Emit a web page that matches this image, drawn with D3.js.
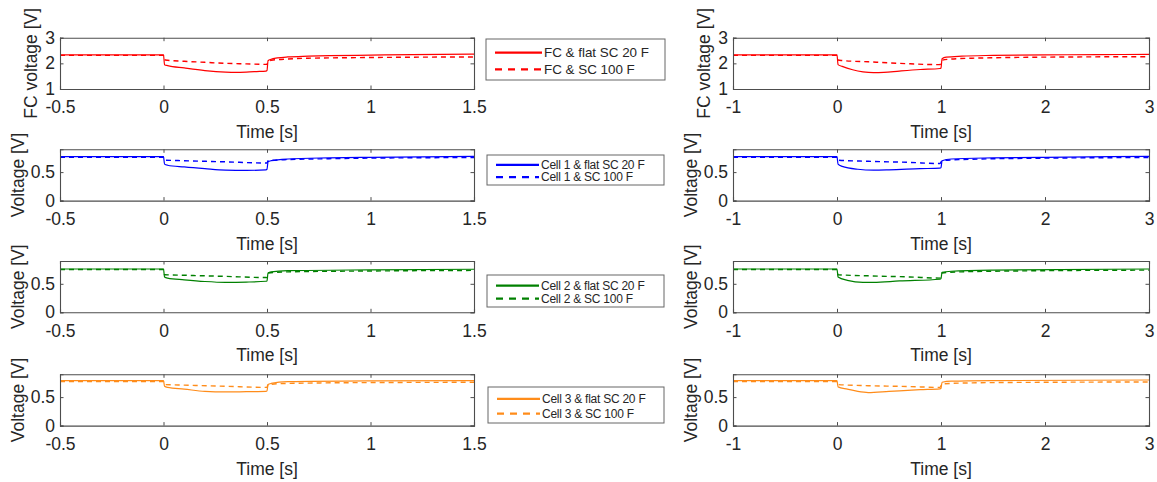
<!DOCTYPE html>
<html><head><meta charset="utf-8">
<script src="https://cdn.jsdelivr.net/npm/d3@7"></script>
<style>body{margin:0;background:#fff}svg{display:block}text{font-family:"Liberation Sans",Arial,sans-serif;fill:#262626}</style>
</head><body><svg id="c" width="1157" height="482"></svg>
<script>
// ---- data ----
const shortXTicks = [-0.5, 0, 0.5, 1, 1.5];
const longXTicks = [-1, 0, 1, 2, 3];
const fcYTicks = [1, 2, 3];
const cellYTicks = [0, 0.5];
const seriesColors = ["#ff0000", "#0000ff", "#008000", "#ff8c1a"];
const yLabels = ["FC voltage [V]", "Voltage [V]", "Voltage [V]", "Voltage [V]"];
const legendFlat = ["FC & flat SC 20 F", "Cell 1 & flat SC 20 F", "Cell 2 & flat SC 20 F", "Cell 3 & flat SC 20 F"];
const legendSC = ["FC & SC 100 F", "Cell 1 & SC 100 F", "Cell 2 & SC 100 F", "Cell 3 & SC 100 F"];

const fcShortFlat = [[-0.5,2.33],[0,2.33],[0.005,1.95],[0.02,1.91],[0.1,1.82],[0.2,1.72],[0.3,1.66],[0.35,1.65],[0.4,1.66],[0.45,1.68],[0.495,1.7],[0.5,1.72],[0.505,2.1],[0.52,2.16],[0.55,2.21],[0.6,2.25],[0.7,2.28],[0.8,2.3],[1.0,2.32],[1.2,2.34],[1.5,2.36]];
const fcShortSC = [[-0.5,2.31],[0,2.31],[0.005,2.14],[0.02,2.12],[0.1,2.08],[0.2,2.04],[0.3,2.0],[0.4,1.98],[0.5,1.96],[0.505,2.08],[0.52,2.12],[0.6,2.17],[0.7,2.2],[0.9,2.22],[1.2,2.24],[1.5,2.25]];
const fcLongFlat = [[-1,2.33],[0,2.33],[0.01,1.95],[0.05,1.88],[0.15,1.75],[0.25,1.67],[0.35,1.64],[0.45,1.65],[0.6,1.7],[0.8,1.76],[0.99,1.8],[1.0,1.82],[1.01,2.18],[1.05,2.24],[1.2,2.28],[1.5,2.31],[2,2.33],[2.5,2.34],[3,2.35]];
const fcLongSC = [[-1,2.31],[0,2.31],[0.01,2.13],[0.05,2.11],[0.3,2.06],[0.6,2.0],[0.99,1.95],[1.01,2.12],[1.1,2.17],[1.3,2.2],[1.7,2.23],[2.3,2.25],[3,2.26]];

const cell1ShortFlat = [[-0.5,0.77],[0,0.77],[0.005,0.64],[0.02,0.62],[0.1,0.59],[0.2,0.56],[0.3,0.535],[0.4,0.53],[0.495,0.54],[0.5,0.55],[0.505,0.68],[0.52,0.70],[0.6,0.73],[0.8,0.75],[1.0,0.76],[1.5,0.775]];
const cell1ShortSC = [[-0.5,0.76],[0,0.76],[0.005,0.71],[0.1,0.70],[0.3,0.68],[0.5,0.66],[0.505,0.70],[0.6,0.72],[0.8,0.735],[1.0,0.745],[1.5,0.755]];
const cell1LongFlat = [[-1,0.77],[0,0.77],[0.01,0.64],[0.05,0.6],[0.2,0.55],[0.35,0.535],[0.5,0.54],[0.8,0.56],[0.99,0.57],[1.0,0.58],[1.01,0.7],[1.1,0.73],[1.5,0.75],[2,0.76],[3,0.775]];
const cell1LongSC = [[-1,0.76],[0,0.76],[0.01,0.71],[0.3,0.69],[0.7,0.67],[0.99,0.65],[1.01,0.7],[1.2,0.72],[2,0.745],[3,0.755]];

const cell2ShortFlat = [[-0.5,0.76],[0,0.76],[0.005,0.62],[0.02,0.6],[0.1,0.57],[0.2,0.54],[0.3,0.525],[0.4,0.53],[0.495,0.545],[0.5,0.55],[0.505,0.69],[0.52,0.71],[0.6,0.73],[1.0,0.745],[1.5,0.755]];
const cell2ShortSC = [[-0.5,0.75],[0,0.75],[0.005,0.66],[0.1,0.65],[0.3,0.63],[0.5,0.61],[0.505,0.69],[0.6,0.71],[1.0,0.725],[1.5,0.735]];
const cell2LongFlat = [[-1,0.76],[0,0.76],[0.01,0.62],[0.1,0.56],[0.25,0.525],[0.35,0.525],[0.6,0.55],[0.99,0.58],[1.0,0.59],[1.01,0.7],[1.1,0.72],[1.5,0.74],[3,0.76]];
const cell2LongSC = [[-1,0.75],[0,0.75],[0.01,0.66],[0.3,0.64],[0.7,0.62],[0.99,0.6],[1.01,0.69],[1.2,0.71],[2,0.73],[3,0.74]];

const cell3ShortFlat = [[-0.5,0.79],[0,0.79],[0.005,0.69],[0.02,0.67],[0.1,0.64],[0.2,0.6],[0.3,0.59],[0.4,0.595],[0.495,0.6],[0.5,0.61],[0.505,0.72],[0.52,0.74],[0.6,0.77],[1.0,0.785],[1.5,0.79]];
const cell3ShortSC = [[-0.5,0.775],[0,0.775],[0.005,0.72],[0.1,0.71],[0.3,0.69],[0.5,0.67],[0.505,0.72],[0.6,0.74],[1.0,0.755],[1.5,0.76]];
const cell3LongFlat = [[-1,0.79],[0,0.79],[0.01,0.68],[0.1,0.64],[0.2,0.6],[0.3,0.58],[0.5,0.6],[0.8,0.63],[0.99,0.645],[1.0,0.655],[1.01,0.76],[1.1,0.78],[1.5,0.79],[3,0.8]];
const cell3LongSC = [[-1,0.775],[0,0.775],[0.01,0.72],[0.3,0.70],[0.7,0.685],[0.99,0.67],[1.01,0.73],[1.3,0.75],[2,0.76],[3,0.765]];

const shortFlat = [fcShortFlat, cell1ShortFlat, cell2ShortFlat, cell3ShortFlat];
const shortSC = [fcShortSC, cell1ShortSC, cell2ShortSC, cell3ShortSC];
const longFlat = [fcLongFlat, cell1LongFlat, cell2LongFlat, cell3LongFlat];
const longSC = [fcLongSC, cell1LongSC, cell2LongSC, cell3LongSC];

// ---- layout ----
const svg = d3.select("#c");
const panelTops = [37.7, 149.3, 261, 374.3];
const panelH = 51.3;
const FS = 17.5;
const cols = [
  {x0: 60, x1: 474, dom: [-0.5, 1.5], ticks: shortXTicks, flat: shortFlat, sc: shortSC, labX: [31, 18]},
  {x0: 733, x1: 1149, dom: [-1, 3], ticks: longXTicks, flat: longFlat, sc: longSC, labX: [704, 691]}
];
const legendBoxes = [[486, 39, 179, 41], [487, 155, 177, 30], [487, 275, 177, 32], [488, 387, 176, 36]];
const axisCol = "#4d4d4d";

cols.forEach(col => {
  panelTops.forEach((top, i) => {
    const x = d3.scaleLinear().domain(col.dom).range([col.x0, col.x1]);
    const yDom = i === 0 ? [1, 3] : [0, 0.9];
    const yTicks = i === 0 ? fcYTicks : cellYTicks;
    const y = d3.scaleLinear().domain(yDom).range([top + panelH, top]);
    const g = svg.append("g");
    const clipId = "clip" + col.x0 + "_" + i;
    g.append("clipPath").attr("id", clipId).append("rect")
      .attr("x", col.x0).attr("y", top).attr("width", col.x1 - col.x0).attr("height", panelH);
    const line = d3.line().x(d => x(d[0])).y(d => y(d[1])).curve(d3.curveMonotoneX);
    const lg = g.append("g").attr("clip-path", `url(#${clipId})`);
    lg.append("path").datum(col.sc[i]).attr("d", line).attr("fill", "none")
      .attr("stroke", seriesColors[i]).attr("stroke-width", 1.4).attr("stroke-dasharray", "5,4");
    lg.append("path").datum(col.flat[i]).attr("d", line).attr("fill", "none")
      .attr("stroke", seriesColors[i]).attr("stroke-width", 1.2);

    const fmt = d => String(d);
    const bx = g.append("g").attr("transform", `translate(0,${top + panelH})`)
      .call(d3.axisBottom(x).tickValues(col.ticks).tickSize(-3.5).tickFormat(fmt));
    const tx = g.append("g").attr("transform", `translate(0,${top})`)
      .call(d3.axisTop(x).tickValues(col.ticks).tickSize(-3.5).tickFormat(""));
    const ly = g.append("g").attr("transform", `translate(${col.x0},0)`)
      .call(d3.axisLeft(y).tickValues(yTicks).tickSize(-3.5).tickPadding(5).tickFormat(fmt));
    const ry = g.append("g").attr("transform", `translate(${col.x1},0)`)
      .call(d3.axisRight(y).tickValues(yTicks).tickSize(-3.5).tickFormat(""));
    [bx, tx, ly, ry].forEach(a => {
      a.select(".domain").attr("stroke", axisCol).attr("stroke-width", 1.1);
      a.selectAll(".tick line").attr("stroke", axisCol);
      a.selectAll("text").style("font-size", FS + "px").attr("fill", "#262626");
    });
    bx.selectAll(".tick text").attr("dy", "0.71em").attr("y", 12);
    g.append("text").attr("x", (col.x0 + col.x1) / 2).attr("y", top + panelH + 49)
      .attr("text-anchor", "middle").style("font-size", FS + "px").text("Time [s]");
    const lx = col.labX[i === 0 ? 0 : 1];
    g.append("text").attr("transform", `translate(${lx},${top + panelH / 2}) rotate(-90)`)
      .attr("text-anchor", "middle").attr("dy", "0.35em").style("font-size", FS + "px").text(yLabels[i]);
  });
});

// legends
legendBoxes.forEach((b, i) => {
  const g = svg.append("g");
  g.append("rect").attr("x", b[0]).attr("y", b[1]).attr("width", b[2]).attr("height", b[3])
    .attr("fill", "#fff").attr("stroke", "#666").attr("stroke-width", 1);
  const fs = i === 0 ? 13.4 : 12;
  const ls = i === 0 ? "0px" : "-0.25px";
  const r1 = b[1] + b[3] * 0.33, r2 = b[1] + b[3] * 0.74;
  const lx0 = b[0] + 9, lx1 = i === 0 ? b[0] + 56 : b[0] + 52;
  g.append("line").attr("x1", lx0).attr("x2", lx1).attr("y1", r1).attr("y2", r1)
    .attr("stroke", seriesColors[i]).attr("stroke-width", 2.2);
  g.append("line").attr("x1", lx0).attr("x2", lx1).attr("y1", r2).attr("y2", r2)
    .attr("stroke", seriesColors[i]).attr("stroke-width", 2.2).attr("stroke-dasharray", "7,6");
  g.append("text").attr("x", lx1 + 2).attr("y", r1).attr("dy", "0.35em").style("font-size", fs + "px")
    .style("letter-spacing", ls).text(legendFlat[i]);
  g.append("text").attr("x", lx1 + 2).attr("y", r2).attr("dy", "0.35em").style("font-size", fs + "px")
    .style("letter-spacing", ls).text(legendSC[i]);
});
</script></body></html>
